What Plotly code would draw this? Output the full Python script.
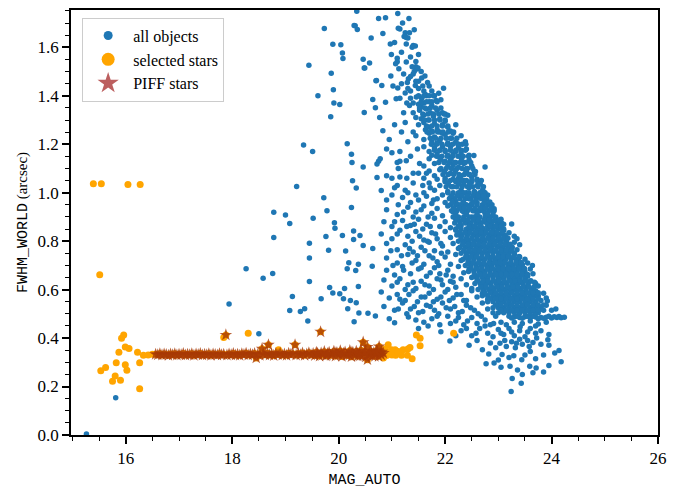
import plotly.graph_objects as go

# ---------------- data ----------------
# all objects: sparse points left of the main cloud
blue_sparse = [
    (19.73,1.678),(20.31,1.689),(20.35,1.674),(20.61,1.638),(19.89,1.613),(20.04,1.611),(20.07,1.577),
    (20.08,1.554),(20.46,1.551),(20.58,1.535),(20.48,1.515),(19.44,1.526),(19.86,1.493),(20.71,1.463),
    (19.90,1.425),(19.61,1.400),(20.64,1.385),(19.91,1.370),(20.02,1.364),(20.69,1.351),(20.48,1.331),
    (19.85,1.313),(19.34,1.197),(19.51,1.170),(20.16,1.202),(20.24,1.159),(20.25,1.125),(20.46,1.106),
    (20.72,1.118),(20.72,1.063),(20.26,1.049),(20.33,1.019),(19.21,1.026),(19.72,0.979),(19.78,0.926),
    (20.24,0.939),(18.78,0.919),(19.00,0.908),(19.08,0.873),(19.52,0.895),(19.92,0.876),(19.93,0.853),
    (20.28,0.842),(20.40,0.823),(20.07,0.823),(20.28,0.807),(18.78,0.815),(19.76,0.819),(19.45,0.791),
    (20.46,0.782),(20.64,0.770),(19.81,0.762),(20.13,0.759),(19.45,0.731),(20.19,0.711),(20.37,0.705),
    (20.63,0.696),(20.16,0.686),(20.32,0.679),(18.26,0.686),(18.58,0.647),(18.76,0.667),(19.45,0.634),
    (19.83,0.609),(20.11,0.605),(20.37,0.613),(19.89,0.586),(20.02,0.583),(20.09,0.562),(19.13,0.572),
    (19.67,0.562),(20.22,0.555),(20.33,0.546),(17.94,0.541),(19.08,0.514),(19.28,0.510),(19.36,0.521),
    (20.17,0.521),(20.38,0.504),(20.55,0.502),(20.69,0.491),(19.42,0.471),(20.29,0.467),(18.50,0.418),
    (15.81,0.154),(15.26,0.004),
]

# all objects: main cloud, scattered points by height
blue_cloud = [
    (20.75,1.719),(20.88,1.722),(21.11,1.740),(21.32,1.719),(20.34,1.749),
    (21.12,1.679),(21.15,1.676),(21.42,1.673),(20.83,1.657),(21.25,1.660),(20.29,1.690),
    (21.23,1.645),(21.27,1.640),(21.30,1.638),(20.97,1.614),(21.27,1.614),(21.40,1.608),(21.44,1.605),
    (20.99,1.570),(21.50,1.570),(21.10,1.555),
    (21.10,1.540),(21.07,1.532),(21.27,1.539),(21.45,1.541),(21.13,1.512),(21.45,1.520),(21.47,1.510),
    (21.49,1.515),(21.42,1.500),(20.49,1.515),
    (20.98,1.482),(21.62,1.482),(21.31,1.470),(21.29,1.455),(21.56,1.473),(21.40,1.490),(21.35,1.480),
    (21.67,1.455),(21.50,1.460),(20.70,1.462),
    (21.44,1.442),(20.81,1.442),(21.02,1.440),(21.11,1.432),(21.97,1.431),(21.25,1.411),(21.60,1.420),
    (21.63,1.405),(21.50,1.430),(21.35,1.420),(21.70,1.440),
    (21.35,1.390),(21.46,1.395),(21.56,1.390),(21.92,1.384),(20.88,1.373),(21.08,1.388),(21.40,1.370),
    (21.50,1.365),(21.60,1.370),(21.70,1.375),(21.75,1.360),(21.83,1.380),(21.55,1.355),
    (20.77,1.310),(21.40,1.330),(21.52,1.340),(21.60,1.320),(21.65,1.345),(21.72,1.330),(21.78,1.315),
    (21.85,1.340),(21.95,1.330),(22.00,1.325),(22.05,1.320),(21.45,1.310),(21.55,1.305),(21.68,1.300),
    (21.90,1.305),
    (21.25,1.290),(20.83,1.256),(21.40,1.250),(21.50,1.280),(21.60,1.290),(21.70,1.270),(21.80,1.285),
    (21.85,1.260),(21.95,1.280),(22.05,1.270),(22.10,1.255),(22.20,1.280),(21.75,1.255),(21.63,1.260),
    (22.00,1.295),(21.90,1.250),
    (21.45,1.235),(21.60,1.220),(21.70,1.245),(21.80,1.230),(21.90,1.215),(22.00,1.240),(22.10,1.225),
    (22.20,1.210),(22.30,1.235),(22.38,1.210),(22.39,1.200),(21.85,1.205),(21.95,1.245),(22.05,1.205),
    (22.15,1.245),(21.75,1.210),(22.25,1.200),
    (20.90,1.180),(21.00,1.165),(21.15,1.170),(22.54,1.153),(21.60,1.190),(21.70,1.170),(21.80,1.185),
    (21.85,1.160),(21.95,1.190),(22.00,1.170),(22.10,1.190),(22.15,1.160),(22.25,1.185),(22.30,1.165),
    (22.40,1.180),(22.45,1.155),(21.75,1.155),(22.05,1.155),(22.20,1.170),(21.90,1.175),
    (20.75,1.130),(20.78,1.140),(21.10,1.125),(21.15,1.130),(21.27,1.132),(22.75,1.106),(21.70,1.140),
    (21.80,1.120),(21.90,1.145),(22.00,1.130),(22.05,1.110),(22.10,1.140),(22.20,1.125),(22.25,1.105),
    (22.30,1.145),(22.35,1.120),(22.45,1.135),(22.50,1.110),(21.60,1.110),(22.40,1.100),(22.15,1.115),
    (20.90,1.070),(21.00,1.060),(21.15,1.065),(21.50,1.080),(21.70,1.090),(21.80,1.070),(21.90,1.095),
    (22.00,1.060),(22.10,1.080),(22.15,1.055),(22.20,1.095),(22.30,1.070),(22.35,1.050),(22.40,1.090),
    (22.50,1.065),(22.55,1.085),(22.60,1.055),(22.45,1.075),(22.25,1.060),(21.85,1.055),(21.60,1.060),
    (20.80,1.009),(21.10,1.030),(21.05,1.020),(21.40,1.040),(21.60,1.000),(21.70,1.040),(21.80,1.010),
    (21.90,1.030),(22.00,1.045),(22.05,1.005),(22.15,1.025),(22.20,1.045),(22.30,1.010),(22.35,1.035),
    (22.45,1.020),(22.50,1.045),(22.55,1.005),(22.60,1.030),(22.70,1.010),(22.72,1.005),(22.40,1.000),
    (21.25,1.010),
    (21.20,0.980),(21.35,0.960),(21.50,0.970),(21.65,0.985),(21.75,0.955),(21.85,0.975),(21.95,0.990),
    (22.00,0.960),(22.10,0.980),(22.20,0.965),(22.30,0.990),(22.35,0.955),(22.45,0.975),(22.55,0.990),
    (22.60,0.960),(22.65,0.980),(22.75,0.965),(22.80,0.990),(22.50,0.955),(22.25,0.950),(20.90,0.970),
    (21.00,0.990),
    (20.90,0.930),(21.10,0.910),(21.30,0.940),(21.45,0.920),(21.60,0.945),(21.75,0.915),(21.85,0.935),
    (21.95,0.905),(22.05,0.945),(22.15,0.920),(22.20,0.900),(22.30,0.935),(22.40,0.910),(22.45,0.945),
    (22.55,0.925),(22.60,0.905),(22.70,0.940),(22.75,0.915),(22.85,0.930),(22.92,0.934),(22.80,0.905),
    (22.50,0.900),(22.65,0.925),(22.35,0.920),
    (20.85,0.880),(21.00,0.860),(21.20,0.885),(21.35,0.865),(21.50,0.890),(21.65,0.870),(21.80,0.895),
    (21.90,0.860),(22.00,0.880),(22.10,0.855),(22.20,0.890),(22.30,0.865),(22.40,0.885),(22.50,0.860),
    (22.55,0.895),(22.65,0.875),(22.70,0.855),(22.75,0.890),(22.85,0.870),(22.90,0.855),(22.95,0.885),
    (23.00,0.865),(23.05,0.890),(22.60,0.850),(22.45,0.875),(22.80,0.860),(23.10,0.870),(23.25,0.871),
    (20.80,0.830),(21.00,0.810),(21.15,0.845),(21.30,0.820),(21.45,0.840),(21.60,0.805),(21.75,0.835),
    (21.85,0.810),(22.00,0.840),(22.10,0.815),(22.20,0.845),(22.30,0.820),(22.40,0.805),(22.45,0.840),
    (22.55,0.825),(22.60,0.845),(22.70,0.810),(22.75,0.835),(22.85,0.820),(22.90,0.845),(23.00,0.805),
    (23.05,0.830),(23.10,0.845),(23.15,0.815),(23.20,0.835),(23.30,0.820),(23.35,0.810),(22.95,0.825),
    (22.65,0.830),
    (20.90,0.790),(21.10,0.765),(21.25,0.785),(21.40,0.755),(21.55,0.775),(21.70,0.795),(21.80,0.760),
    (21.95,0.780),(22.05,0.755),(22.15,0.790),(22.25,0.770),(22.35,0.795),(22.45,0.760),(22.50,0.785),
    (22.60,0.770),(22.70,0.795),(22.75,0.755),(22.80,0.775),(22.90,0.790),(22.95,0.760),(23.00,0.780),
    (23.05,0.795),(23.10,0.765),(23.15,0.785),(23.20,0.755),(23.25,0.775),(23.30,0.795),(23.35,0.765),
    (23.40,0.785),(22.85,0.765),(22.65,0.755),
    (20.90,0.730),(21.10,0.710),(21.30,0.745),(21.45,0.720),(21.60,0.705),(21.70,0.740),(21.85,0.715),
    (22.00,0.735),(22.10,0.705),(22.20,0.745),(22.30,0.720),(22.40,0.740),(22.50,0.710),(22.55,0.745),
    (22.65,0.725),(22.70,0.705),(22.80,0.740),(22.85,0.715),(22.90,0.735),(23.00,0.705),(23.05,0.745),
    (23.10,0.720),(23.15,0.740),(23.20,0.705),(23.25,0.730),(23.30,0.745),(23.35,0.715),(23.40,0.735),
    (23.45,0.705),(23.50,0.725),(23.55,0.710),(23.64,0.700),(22.95,0.720),(23.38,0.720),
    (20.90,0.680),(21.05,0.660),(21.20,0.695),(21.35,0.665),(21.50,0.685),(21.65,0.655),(21.80,0.690),
    (21.90,0.665),(22.05,0.680),(22.15,0.655),(22.25,0.695),(22.35,0.670),(22.45,0.685),(22.55,0.655),
    (22.60,0.690),(22.70,0.670),(22.80,0.655),(22.85,0.695),(22.95,0.680),(23.00,0.655),(23.05,0.690),
    (23.10,0.665),(23.15,0.685),(23.20,0.655),(23.25,0.695),(23.30,0.670),(23.35,0.685),(23.40,0.660),
    (23.45,0.695),(23.50,0.675),(23.55,0.655),(23.60,0.685),(23.65,0.665),(23.30,0.655),(23.00,0.670),
    (23.20,0.675),(22.90,0.660),
    (20.85,0.640),(21.00,0.615),(21.15,0.645),(21.30,0.620),(21.45,0.605),(21.55,0.635),(21.70,0.615),
    (21.85,0.645),(21.95,0.620),(22.10,0.635),(22.20,0.610),(22.30,0.645),(22.40,0.620),(22.50,0.605),
    (22.60,0.640),(22.70,0.615),(22.75,0.645),(22.85,0.625),(22.90,0.605),(23.00,0.640),(23.05,0.615),
    (23.10,0.645),(23.15,0.625),(23.20,0.605),(23.25,0.640),(23.30,0.620),(23.35,0.645),(23.40,0.605),
    (23.45,0.630),(23.50,0.645),(23.55,0.615),(23.60,0.635),(23.65,0.605),(23.70,0.625),(23.75,0.615),
    (23.68,0.630),(23.25,0.615),(23.40,0.630),(23.00,0.620),
    (20.80,0.590),(20.95,0.565),(21.10,0.580),(21.25,0.555),(21.40,0.595),(21.55,0.570),(21.70,0.585),
    (21.85,0.560),(22.00,0.590),(22.15,0.565),(22.30,0.580),(22.40,0.555),(22.50,0.595),(22.60,0.570),
    (22.70,0.585),(22.80,0.560),(22.90,0.595),(22.95,0.575),(23.00,0.555),(23.05,0.590),(23.10,0.565),
    (23.15,0.585),(23.20,0.555),(23.25,0.595),(23.30,0.570),(23.35,0.585),(23.40,0.560),(23.45,0.590),
    (23.50,0.570),(23.55,0.555),(23.60,0.585),(23.65,0.565),(23.70,0.595),(23.75,0.575),(23.80,0.555),
    (23.85,0.585),(23.90,0.565),(23.92,0.553),(23.30,0.555),(23.45,0.575),(23.60,0.560),
    (20.85,0.530),(21.05,0.515),(21.20,0.545),(21.35,0.520),(21.50,0.505),(21.65,0.535),(21.80,0.515),
    (21.95,0.545),(22.10,0.520),(22.25,0.505),(22.40,0.535),(22.55,0.515),(22.70,0.545),(22.80,0.520),
    (22.90,0.505),(23.00,0.535),(23.10,0.515),(23.20,0.545),(23.30,0.525),(23.40,0.505),(23.50,0.535),
    (23.60,0.515),(23.70,0.545),(23.80,0.520),(23.90,0.535),(24.00,0.515),(24.08,0.520),(23.45,0.520),
    (23.65,0.530),(23.75,0.505),
    (20.95,0.480),(21.31,0.487),(21.05,0.463),(21.60,0.465),(21.75,0.480),(21.90,0.455),(22.05,0.490),
    (22.20,0.470),(22.35,0.455),(22.50,0.485),(22.60,0.460),(22.75,0.475),(22.85,0.455),(22.91,0.460),
    (22.95,0.490),(23.05,0.465),(23.15,0.455),(23.30,0.465),(23.41,0.447),(23.45,0.460),(23.60,0.470),
    (23.70,0.450),(23.75,0.458),(23.90,0.465),(22.10,0.460),
    (21.50,0.440),(21.92,0.426),(22.30,0.430),(22.50,0.410),(22.65,0.440),(22.80,0.420),(22.90,0.405),
    (23.00,0.435),(23.10,0.415),(23.20,0.440),(23.30,0.410),(23.40,0.430),(23.50,0.405),(23.60,0.440),
    (23.70,0.420),(23.80,0.430),(23.93,0.393),(23.95,0.415),
    (22.09,0.388),(22.45,0.370),(22.70,0.352),(22.60,0.390),(22.85,0.380),(22.95,0.360),(23.03,0.379),
    (23.15,0.365),(23.25,0.385),(23.34,0.379),(23.45,0.375),(23.55,0.390),(23.65,0.382),(23.80,0.375),
    (23.95,0.370),(24.14,0.349),(23.40,0.395),
    (22.82,0.334),(23.00,0.310),(23.07,0.332),(23.20,0.320),(23.29,0.327),(23.44,0.311),(23.50,0.330),
    (23.60,0.345),(23.70,0.315),(23.85,0.330),(24.06,0.338),(24.18,0.302),
    (22.77,0.294),(22.92,0.297),(23.22,0.284),(23.36,0.268),(23.59,0.284),(23.71,0.276),(23.95,0.287),
    (23.65,0.257),(23.45,0.250),(23.85,0.260),(23.05,0.280),
    (23.26,0.233),(23.43,0.214),(23.24,0.180),
]

# all objects: extra scattered points filling the left / lower part of the cloud
blue_fill = [
    (21.18,1.580),(21.35,1.560),(21.22,1.490),(21.38,1.520),(21.55,1.500),(21.18,1.450),(21.45,1.460),
    (21.58,1.440),(21.75,1.420),(21.30,1.430),(21.78,1.400),(21.88,1.410),(21.15,1.390),(21.28,1.370),
    (21.65,1.400),(21.38,1.600),(21.33,1.660),(21.20,1.700),(21.05,1.620),
    (20.95,1.220),(21.05,1.280),(21.18,1.250),(21.30,1.210),(21.22,1.330),(21.33,1.360),(21.12,1.100),
    (21.35,1.150),(21.48,1.180),(21.52,1.120),(21.40,1.080),(21.28,1.060),(21.58,1.030),(21.45,0.990),
    (21.30,1.000),(21.12,0.950),(21.22,0.920),(21.40,0.900),(21.55,0.930),(21.68,0.900),(21.72,1.020),
    (21.65,1.080),(21.78,0.970),(21.05,0.880),(21.28,0.860),(21.42,0.870),(21.58,0.850),(21.72,0.860),
    (21.10,0.830),(21.38,0.800),(21.52,0.820),(21.67,0.800),(21.82,0.830),(21.92,0.790),(20.98,0.760),
    (21.18,0.740),(21.33,0.770),(21.48,0.740),(21.62,0.760),(21.77,0.730),(21.93,0.750),(21.02,0.700),
    (21.22,0.680),(21.38,0.710),(21.55,0.690),(21.72,0.670),(21.88,0.700),(22.02,0.660),(21.10,0.630),
    (21.25,0.600),(21.40,0.630),(21.62,0.620),(21.78,0.600),(21.92,0.640),(22.05,0.600),(22.15,0.630),
    (21.15,0.560),(21.32,0.580),(21.48,0.550),(21.62,0.570),(21.78,0.550),(21.92,0.570),(22.08,0.555),
    (22.22,0.580),(22.35,0.555),(21.12,0.520),(21.28,0.500),(21.42,0.530),(21.58,0.510),(21.72,0.530),
    (21.88,0.500),(22.02,0.525),(22.18,0.530),(22.32,0.510),(22.48,0.525),(22.62,0.500),(21.45,0.475),
    (21.68,0.450),(21.85,0.490),(22.25,0.485),(22.42,0.470),(22.68,0.490),(22.40,0.440),(22.58,0.420),
    (22.75,0.450),(23.05,0.420),(23.25,0.425),(23.55,0.425),(23.12,0.390),(23.32,0.360),(23.58,0.365),
    (23.72,0.400),(22.20,0.410),
]

# all objects: the horizontal streak at the faint end
blue_streak = [
    (23.20,0.490),(23.30,0.487),(23.40,0.485),(23.50,0.488),(23.60,0.484),(23.70,0.487),(23.80,0.485),
    (23.90,0.486),(24.00,0.483),(24.10,0.485),(24.18,0.484),(24.24,0.486),(23.35,0.490),(23.55,0.490),
    (23.75,0.480),(23.95,0.490),(24.05,0.488),(23.25,0.483),(23.45,0.482),(23.65,0.490),(23.85,0.482),
    (24.14,0.489),
]

# all objects: dense core of the cloud, rows of (FWHM, [MAG values])
blue_core_rows = [
    (1.400, [21.50, 21.60, 21.70, 21.80]),
    (1.375, [21.55, 21.65, 21.75, 21.85]),
    (1.350, [21.52, 21.62, 21.72, 21.82, 21.92]),
    (1.325, [21.58, 21.68, 21.78, 21.88, 21.98]),
    (1.300, [21.60, 21.70, 21.80, 21.90, 22.00]),
    (1.275, [21.65, 21.75, 21.85, 21.95, 22.05]),
    (1.250, [21.66, 21.76, 21.86, 21.96, 22.06, 22.16]),
    (1.225, [21.72, 21.82, 21.92, 22.02, 22.12, 22.22]),
    (1.200, [21.74, 21.84, 21.94, 22.04, 22.14, 22.24, 22.32]),
    (1.175, [21.80, 21.90, 22.00, 22.10, 22.20, 22.30, 22.38]),
    (1.150, [21.84, 21.94, 22.04, 22.14, 22.24, 22.34, 22.44]),
    (1.125, [21.88, 21.98, 22.08, 22.18, 22.28, 22.38, 22.48]),
    (1.100, [21.92, 22.02, 22.12, 22.22, 22.32, 22.42, 22.52]),
    (1.075, [21.96, 22.06, 22.16, 22.26, 22.36, 22.46, 22.56]),
    (1.050, [22.00, 22.10, 22.20, 22.30, 22.40, 22.50, 22.60, 22.68]),
    (1.025, [22.02, 22.12, 22.22, 22.32, 22.42, 22.52, 22.62, 22.72]),
    (1.000, [22.05, 22.15, 22.25, 22.35, 22.45, 22.55, 22.65, 22.75]),
    (0.975, [22.08, 22.18, 22.28, 22.38, 22.48, 22.58, 22.68, 22.78]),
    (0.950, [22.10, 22.20, 22.30, 22.40, 22.50, 22.60, 22.70, 22.80, 22.88]),
    (0.925, [22.12, 22.22, 22.32, 22.42, 22.52, 22.62, 22.72, 22.82, 22.92]),
    (0.900, [22.15, 22.25, 22.35, 22.45, 22.55, 22.65, 22.75, 22.85, 22.95]),
    (0.875, [22.18, 22.28, 22.38, 22.48, 22.58, 22.68, 22.78, 22.88, 22.98, 23.06]),
    (0.850, [22.20, 22.30, 22.40, 22.50, 22.60, 22.70, 22.80, 22.90, 23.00, 23.10]),
    (0.825, [22.22, 22.32, 22.42, 22.52, 22.62, 22.72, 22.82, 22.92, 23.02, 23.12]),
    (0.800, [22.25, 22.35, 22.45, 22.55, 22.65, 22.75, 22.85, 22.95, 23.05, 23.15]),
    (0.775, [22.28, 22.38, 22.48, 22.58, 22.68, 22.78, 22.88, 22.98, 23.08, 23.18, 23.26]),
    (0.750, [22.30, 22.40, 22.50, 22.60, 22.70, 22.80, 22.90, 23.00, 23.10, 23.20, 23.30]),
    (0.725, [22.34, 22.44, 22.54, 22.64, 22.74, 22.84, 22.94, 23.04, 23.14, 23.24, 23.34]),
    (0.700, [22.38, 22.48, 22.58, 22.68, 22.78, 22.88, 22.98, 23.08, 23.18, 23.28, 23.38]),
    (0.675, [22.44, 22.54, 22.64, 22.74, 22.84, 22.94, 23.04, 23.14, 23.24, 23.34, 23.44]),
    (0.650, [22.50, 22.60, 22.70, 22.80, 22.90, 23.00, 23.10, 23.20, 23.30, 23.40, 23.50]),
    (0.625, [22.56, 22.66, 22.76, 22.86, 22.96, 23.06, 23.16, 23.26, 23.36, 23.46, 23.56]),
    (0.600, [22.62, 22.72, 22.82, 22.92, 23.02, 23.12, 23.22, 23.32, 23.42, 23.52, 23.62]),
    (0.575, [22.70, 22.80, 22.90, 23.00, 23.10, 23.20, 23.30, 23.40, 23.50, 23.60, 23.70]),
    (0.550, [22.80, 22.90, 23.00, 23.10, 23.20, 23.30, 23.40, 23.50, 23.60, 23.70]),
    (0.525, [22.90, 23.00, 23.10, 23.20, 23.30, 23.40, 23.50, 23.60, 23.70, 23.80]),
    (0.505, [23.00, 23.10, 23.20, 23.30, 23.40, 23.50, 23.60, 23.70]),
]

# all objects: second (offset) layer of the dense core (lower part only)
blue_core_rows2 = [
    (1.137, [21.91, 22.11, 22.31]),
    (1.087, [21.99, 22.19, 22.39, 22.57]),
    (1.037, [22.06, 22.26, 22.46, 22.66]),
    (0.987, [22.12, 22.22, 22.32, 22.42, 22.52, 22.62, 22.72]),
    (0.962, [22.14, 22.34, 22.54, 22.74, 22.84]),
    (0.937, [22.16, 22.26, 22.36, 22.46, 22.56, 22.66, 22.76, 22.86]),
    (0.912, [22.20, 22.40, 22.60, 22.80, 22.90]),
    (0.887, [22.23, 22.33, 22.43, 22.53, 22.63, 22.73, 22.83, 22.93, 23.02]),
    (0.862, [22.25, 22.45, 22.55, 22.65, 22.85, 22.95, 23.05]),
    (0.837, [22.27, 22.37, 22.47, 22.57, 22.67, 22.77, 22.87, 22.97, 23.07]),
    (0.812, [22.30, 22.40, 22.50, 22.60, 22.70, 22.80, 22.90, 23.00, 23.10, 23.18]),
    (0.787, [22.33, 22.43, 22.53, 22.63, 22.73, 22.83, 22.93, 23.03, 23.13, 23.22]),
    (0.762, [22.35, 22.45, 22.55, 22.65, 22.75, 22.85, 22.95, 23.05, 23.15, 23.25]),
    (0.737, [22.39, 22.49, 22.59, 22.69, 22.79, 22.89, 22.99, 23.09, 23.19, 23.29, 23.39]),
    (0.712, [22.43, 22.53, 22.63, 22.73, 22.83, 22.93, 23.03, 23.13, 23.23, 23.33, 23.43]),
    (0.687, [22.49, 22.59, 22.69, 22.79, 22.89, 22.99, 23.09, 23.19, 23.29, 23.39, 23.49]),
    (0.662, [22.55, 22.65, 22.75, 22.85, 22.95, 23.05, 23.15, 23.25, 23.35, 23.45, 23.55]),
    (0.637, [22.61, 22.71, 22.81, 22.91, 23.01, 23.11, 23.21, 23.31, 23.41, 23.51, 23.61]),
    (0.612, [22.67, 22.77, 22.87, 22.97, 23.07, 23.17, 23.27, 23.37, 23.47, 23.57, 23.67]),
    (0.587, [22.75, 22.85, 22.95, 23.05, 23.15, 23.25, 23.35, 23.45, 23.55, 23.65, 23.75]),
    (0.562, [22.85, 22.95, 23.05, 23.15, 23.25, 23.35, 23.45, 23.55, 23.65, 23.75]),
    (0.537, [22.95, 23.05, 23.15, 23.25, 23.35, 23.45, 23.55, 23.65, 23.75, 23.85]),
    (0.515, [23.05, 23.15, 23.25, 23.35, 23.45, 23.55, 23.65, 23.75, 23.85]),
]

# selected stars that are not PIFF stars
orange_extra = [
    (15.39,1.037),(15.54,1.037),(16.04,1.034),(16.27,1.034),(15.51,0.661),
    (15.96,0.413),(15.92,0.399),(15.87,0.341),(15.99,0.363),(16.06,0.357),(16.22,0.342),(16.33,0.329),
    (16.42,0.330),(16.50,0.333),(15.82,0.298),(16.26,0.298),(15.62,0.279),(15.53,0.265),(15.99,0.290),
    (16.02,0.267),(15.80,0.244),(15.90,0.226),(15.75,0.222),(16.26,0.191),
    (17.84,0.402),(18.30,0.420),(18.87,0.352),
    (20.93,0.372),(20.99,0.352),(21.06,0.352),(21.21,0.352),(21.34,0.361),(21.30,0.355),(21.46,0.413),
    (21.53,0.399),(21.53,0.368),(21.07,0.329),(21.18,0.329),(21.29,0.329),(21.38,0.315),(20.82,0.345),
    (20.84,0.318),(20.86,0.335),(20.88,0.340),(20.90,0.328),(20.80,0.350),(20.87,0.355),(22.16,0.420),
    (20.95,0.338),(21.00,0.330),(21.12,0.345),
]

# PIFF stars (also selected)
piff_stars = [
    (16.56,.333),(16.60,.331),(16.64,.335),(16.68,.330),(16.72,.334),(16.76,.332),(16.80,.329),(16.84,.334),
    (16.88,.331),(16.92,.335),(16.96,.330),(17.00,.333),(17.04,.331),(17.08,.336),(17.12,.330),(17.16,.333),
    (17.20,.331),(17.24,.335),(17.28,.329),(17.32,.334),(17.36,.332),(17.40,.336),(17.44,.330),(17.48,.333),
    (17.52,.331),(17.56,.335),(17.60,.329),(17.64,.334),(17.68,.332),(17.72,.330),(17.76,.335),(17.80,.331),
    (17.84,.333),(17.88,.413),(17.90,.330),(17.94,.334),(17.98,.331),
    (18.02,.336),(18.06,.330),(18.10,.333),(18.14,.329),(18.18,.335),(18.22,.332),(18.26,.337),(18.30,.330),
    (18.34,.334),(18.38,.331),(18.42,.336),(18.45,.318),(18.48,.333),(18.52,.329),(18.56,.356),(18.58,.335),
    (18.62,.331),(18.66,.337),(18.68,.372),(18.70,.330),(18.74,.334),(18.78,.328),(18.82,.336),(18.86,.332),
    (18.90,.338),(18.94,.330),(18.98,.334),(19.02,.329),(19.06,.337),(19.10,.332),(19.14,.335),(19.18,.372),
    (19.20,.330),(19.24,.336),(19.28,.331),(19.32,.338),(19.36,.329),(19.40,.334),(19.44,.339),(19.48,.331),
    (19.52,.336),(19.55,.328),(19.58,.341),(19.61,.333),(19.64,.326),(19.66,.426),(19.67,.338),(19.70,.331),
    (19.73,.344),(19.76,.327),(19.79,.336),(19.82,.341),(19.85,.329),(19.88,.335),(19.91,.345),(19.94,.326),
    (19.97,.338),(20.00,.332),(20.03,.347),(20.06,.324),(20.09,.337),(20.12,.342),(20.15,.329),(20.18,.335),
    (20.21,.348),(20.24,.323),(20.27,.339),(20.30,.331),(20.33,.345),(20.36,.326),(20.39,.336),(20.42,.350),
    (20.45,.328),(20.46,.383),(20.48,.340),(20.51,.322),(20.54,.363),(20.54,.311),(20.57,.334),(20.60,.346),
    (20.63,.327),(20.66,.340),(20.69,.332),(20.72,.349),(20.75,.325),(20.76,.365),(20.78,.337),(20.81,.343),
    (19.60,.337),(19.78,.330),(19.95,.340),(20.05,.333),(20.20,.330),(20.25,.342),(20.35,.336),(20.40,.327),
    (20.50,.344),(20.55,.330),(20.62,.338),(20.68,.325),(20.70,.343),(20.80,.330),(20.84,.338),
]

legend_labels = ["all objects", "selected stars", "PIFF stars"]

# ---------------- build arrays ----------------
all_pts = blue_sparse + blue_cloud + blue_fill + blue_streak
for rows in (blue_core_rows, blue_core_rows2):
    for yv, xs in rows:
        all_pts += [(xv, yv) for xv in xs]
bx = [p[0] for p in all_pts]
by = [p[1] for p in all_pts]

sel_pts = orange_extra + piff_stars
ox = [p[0] for p in sel_pts]
oy = [p[1] for p in sel_pts]

sx = [p[0] for p in piff_stars]
sy = [p[1] for p in piff_stars]

BLUE = "#1f77b4"
ORANGE = "#ffa500"
STAR_IN_PLOT = "rgba(168,58,5,0.8)"
STAR_LEGEND = "rgba(165,42,42,0.75)"
SERIF = "Liberation Serif"
MONO = "Liberation Mono"

fig = go.Figure()
fig.add_trace(go.Scatter(x=bx, y=by, mode="markers", showlegend=False,
                         marker=dict(color=BLUE, size=5.5, line=dict(width=0))))
fig.add_trace(go.Scatter(x=ox, y=oy, mode="markers", showlegend=False,
                         marker=dict(color=ORANGE, size=7, line=dict(width=0))))
fig.add_trace(go.Scatter(x=sx, y=sy, mode="markers", showlegend=False,
                         marker=dict(color=STAR_IN_PLOT, size=9.5, symbol="star", line=dict(width=0))))

# legend entries (enlarged legend markers)
fig.add_trace(go.Scatter(x=[None], y=[None], mode="markers", name=legend_labels[0],
                         marker=dict(color=BLUE, size=9)))
fig.add_trace(go.Scatter(x=[None], y=[None], mode="markers", name=legend_labels[1],
                         marker=dict(color=ORANGE, size=13)))
fig.add_trace(go.Scatter(x=[None], y=[None], mode="markers", name=legend_labels[2],
                         marker=dict(color=STAR_LEGEND, size=17, symbol="star")))

fig.update_layout(
    width=685, height=493,
    margin=dict(l=71, r=27, t=8, b=53),
    plot_bgcolor="white", paper_bgcolor="white",
    font=dict(family=SERIF, size=16, color="black"),
    legend=dict(x=0.019, y=0.982, xanchor="left", yanchor="top",
                bgcolor="rgba(255,255,255,0.8)", bordercolor="#cccccc", borderwidth=1,
                font=dict(family=SERIF, size=16, color="black"),
                itemwidth=40, itemsizing="trace", tracegroupgap=0),
)
fig.update_xaxes(
    range=[14.97, 26.0], tick0=16, dtick=2, ticks="outside", ticklen=7, tickwidth=1.5,
    tickcolor="black", showline=True, linewidth=1.8, linecolor="black", mirror=True,
    showgrid=False, zeroline=False,
    minor=dict(tick0=15, dtick=0.5, ticks="outside", ticklen=4, tickwidth=1.2, tickcolor="black", showgrid=False),
    tickfont=dict(family=SERIF, size=17),
    title=dict(text="MAG_AUTO", font=dict(family=MONO, size=15), standoff=6),
)
fig.update_yaxes(
    range=[0, 1.754], tick0=0, dtick=0.2, tickformat=".1f", ticks="outside", ticklen=7, tickwidth=1.5,
    tickcolor="black", showline=True, linewidth=1.8, linecolor="black", mirror=True,
    showgrid=False, zeroline=False,
    minor=dict(tick0=0, dtick=0.05, ticks="outside", ticklen=4, tickwidth=1.2, tickcolor="black", showgrid=False),
    tickfont=dict(family=SERIF, size=17),
    title=dict(text='<span style="font-family:Liberation Mono">FWHM_WORLD</span> (arcsec)',
               font=dict(family=SERIF, size=15), standoff=6),
)

fig.write_html("out.html")
